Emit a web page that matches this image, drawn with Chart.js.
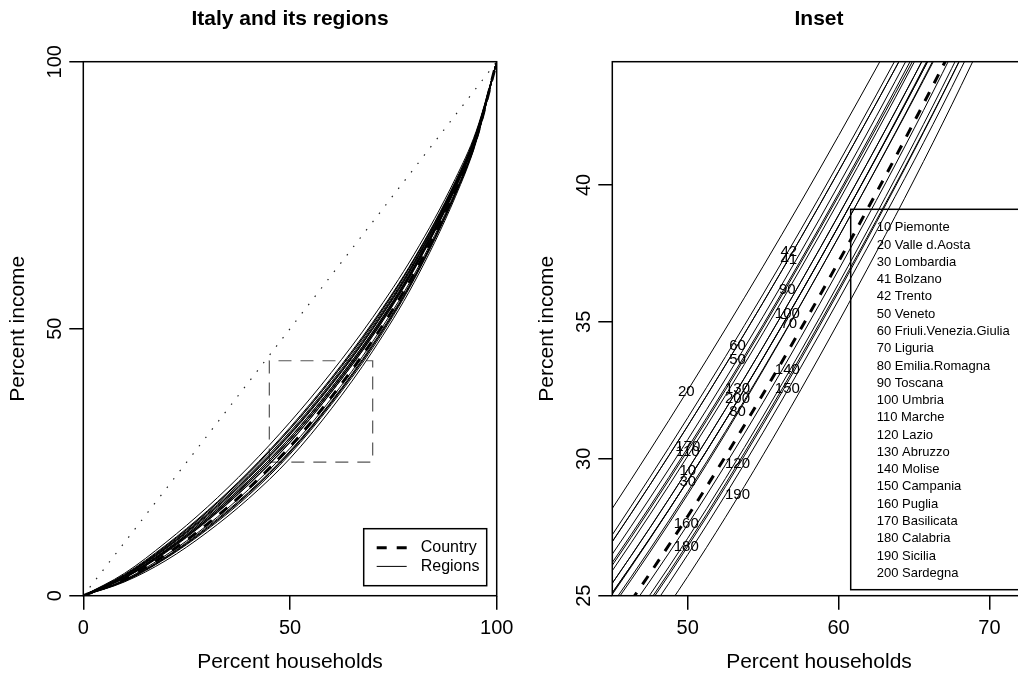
<!DOCTYPE html>
<html>
<head>
<meta charset="utf-8">
<script src="https://cdn.jsdelivr.net/npm/chart.js@4.4.0/dist/chart.umd.min.js"></script>
<style>
html, body { margin: 0; padding: 0; background: #fff; overflow: hidden; }
#wrap { position: relative; width: 1018px; height: 677px; overflow: hidden; background: #fff; }
#mainCanvas { position: absolute; left: 0; top: 0; }
#insetCanvas { position: absolute; left: 520px; top: 0; }
</style>
</head>
<body>
<div id="wrap">
  <canvas id="mainCanvas" width="540" height="677"></canvas>
  <canvas id="insetCanvas" width="520" height="677"></canvas>
</div>
<script>
// cumulative % of households (x) for every curve
var householdPct = [0, 10, 20, 30, 40, 50, 60, 70, 80, 90, 95, 100];

// cumulative % of income
var countryIncome = [0, 3.1, 7.7, 13.4, 20.1, 27.9, 37.2, 47.8, 60.3, 75.8, 85.5, 100];

var incPiemonte   = [0, 3.5, 8.5, 14.6, 21.6, 29.6, 38.9, 49.4, 61.6, 76.6, 86.0, 100];
var incValleAosta = [0, 4.2, 10.0, 16.6, 24.1, 32.5, 41.8, 52.1, 63.9, 78.1, 86.9, 100];
var incLombardia  = [0, 3.4, 8.3, 14.3, 21.2, 29.2, 38.5, 49.0, 61.3, 76.4, 85.9, 100];
var incBolzano    = [0, 3.9, 9.3, 15.7, 23.0, 31.2, 40.5, 50.9, 62.9, 77.4, 86.5, 100];
var incTrento     = [0, 4.0, 9.5, 15.9, 23.2, 31.5, 40.8, 51.2, 63.1, 77.6, 86.6, 100];
var incVeneto     = [0, 3.8, 9.1, 15.4, 22.6, 30.7, 40.0, 50.5, 62.5, 77.2, 86.3, 100];
var incFriuli     = [0, 3.8, 9.3, 15.7, 23.0, 31.2, 40.5, 50.9, 62.9, 77.3, 86.5, 100];
var incLiguria    = [0, 3.3, 8.2, 14.1, 20.9, 28.8, 38.1, 48.7, 61.1, 76.3, 85.8, 100];
var incEmilia     = [0, 3.3, 8.1, 14.0, 20.8, 28.7, 38.1, 48.6, 61.0, 76.2, 85.8, 100];
var incToscana    = [0, 3.6, 8.8, 14.9, 22.0, 30.1, 39.4, 49.9, 62.0, 76.9, 86.1, 100];
var incUmbria     = [0, 3.4, 8.4, 14.3, 21.3, 29.2, 38.5, 49.0, 61.4, 76.5, 85.9, 100];
var incMarche     = [0, 3.7, 8.9, 15.1, 22.2, 30.3, 39.6, 50.0, 62.2, 77.0, 86.2, 100];
var incLazio      = [0, 2.8, 7.2, 12.7, 19.2, 26.9, 36.2, 46.8, 59.5, 75.3, 85.2, 100];
var incAbruzzo    = [0, 3.5, 8.6, 14.6, 21.6, 29.6, 38.9, 49.4, 61.7, 76.7, 86.0, 100];
var incMolise     = [0, 2.9, 7.3, 12.9, 19.4, 27.1, 36.4, 47.1, 59.7, 75.4, 85.3, 100];
var incCampania   = [0, 2.7, 7.0, 12.4, 18.8, 26.5, 35.8, 46.4, 59.2, 75.1, 85.1, 100];
var incPuglia     = [0, 3.0, 7.6, 13.2, 19.9, 27.6, 36.9, 47.6, 60.1, 75.7, 85.4, 100];
var incBasilicata = [0, 3.7, 9.0, 15.2, 22.3, 30.4, 39.7, 50.2, 62.3, 77.1, 86.3, 100];
var incCalabria   = [0, 2.8, 7.1, 12.6, 19.1, 26.8, 36.1, 46.8, 59.4, 75.2, 85.2, 100];
var incSicilia    = [0, 2.6, 6.6, 11.9, 18.2, 25.7, 35.0, 45.8, 58.6, 74.7, 84.9, 100];
var incSardegna   = [0, 3.4, 8.4, 14.3, 21.3, 29.2, 38.5, 49.1, 61.4, 76.5, 85.9, 100];

var regionCodes = [10, 20, 30, 41, 42, 50, 60, 70, 80, 90, 100, 110, 120, 130, 140, 150, 160, 170, 180, 190, 200];
var regionNames = ['Piemonte', 'Valle d.Aosta', 'Lombardia', 'Bolzano', 'Trento', 'Veneto',
  'Friuli.Venezia.Giulia', 'Liguria', 'Emilia.Romagna', 'Toscana', 'Umbria', 'Marche', 'Lazio',
  'Abruzzo', 'Molise', 'Campania', 'Puglia', 'Basilicata', 'Calabria', 'Sicilia', 'Sardegna'];
var regionIncome = [incPiemonte, incValleAosta, incLombardia, incBolzano, incTrento, incVeneto,
  incFriuli, incLiguria, incEmilia, incToscana, incUmbria, incMarche, incLazio, incAbruzzo,
  incMolise, incCampania, incPuglia, incBasilicata, incCalabria, incSicilia, incSardegna];

// where each code is written in the inset (on its curve)
var labelX = [50.0, 49.9, 50.0, 56.7, 56.7, 53.3, 53.3, 56.7, 53.3, 56.6, 56.6, 50.0, 53.3, 53.3, 56.6, 56.6, 49.9, 50.0, 49.9, 53.3, 53.3];
var labelY = [29.56, 32.45, 29.16, 37.25, 37.55, 33.63, 34.11, 34.94, 31.72, 36.16, 35.31, 30.26, 29.81, 32.54, 33.24, 32.57, 27.64, 30.44, 26.79, 28.68, 32.17];

// equality line and the zoomed box
var equalX = [0, 100];
var equalY = [0, 100];
var boxX = [45, 70, 70, 45, 45];
var boxY = [25, 25, 44, 44, 25];

var mainXTicks = [0, 50, 100];
var mainYTicks = [0, 50, 100];
var insetXTicks = [50, 60, 70];
var insetYTicks = [25, 30, 35, 40];

var FONT = '"Liberation Sans", Arial, Helvetica, sans-serif';
Chart.defaults.font.family = FONT;
Chart.defaults.color = '#000';

function pts(xs, ys) {
  return xs.map(function(x, i) { return { x: x, y: ys[i] }; });
}

function curveSets() {
  var sets = [{
    data: pts(householdPct, countryIncome),
    showLine: true, pointRadius: 0, borderColor: '#000', borderWidth: 3,
    borderDash: [10, 10], cubicInterpolationMode: 'monotone', clip: 0, order: 0
  }];
  regionIncome.forEach(function(inc) {
    sets.push({
      data: pts(householdPct, inc),
      showLine: true, pointRadius: 0, borderColor: '#000', borderWidth: 1,
      cubicInterpolationMode: 'monotone', clip: 0, order: 1
    });
  });
  return sets;
}

function makeScales(xr, yr, xt, yt, yWidth, yTitlePad) {
  var grid = { drawOnChartArea: false, drawTicks: true, tickLength: 14, color: '#000', lineWidth: 1.5 };
  return {
    x: {
      type: 'linear', min: xr[0], max: xr[1],
      afterBuildTicks: function(s) { s.ticks = xt.map(function(v) { return { value: v }; }); },
      afterFit: function(s) { s.height = 81.3; },
      grid: grid, border: { display: false },
      ticks: { font: { size: 20 }, padding: 6.4, maxRotation: 0, autoSkip: false },
      title: { display: true, text: 'Percent households', font: { size: 21 }, padding: { top: 0, bottom: 1.7 } }
    },
    y: {
      type: 'linear', min: yr[0], max: yr[1],
      afterBuildTicks: function(s) { s.ticks = yt.map(function(v) { return { value: v }; }); },
      afterFit: function(s) { s.width = yWidth; },
      grid: grid, border: { display: false },
      ticks: { display: false },
      title: { display: true, text: 'Percent income', font: { size: 21 }, padding: { top: yTitlePad, bottom: 0 } }
    }
  };
}

// R style: box round the plot and y tick labels turned along the axis
var boxAndYLabels = {
  id: 'boxAndYLabels',
  afterDraw: function(chart) {
    var ctx = chart.ctx, a = chart.chartArea, s = chart.scales.y;
    ctx.save();
    ctx.strokeStyle = '#000';
    ctx.lineWidth = 1.5;
    ctx.strokeRect(a.left, a.top, a.right - a.left, a.bottom - a.top);
    ctx.fillStyle = '#000';
    ctx.font = '20px ' + FONT;
    ctx.textAlign = 'center';
    ctx.textBaseline = 'middle';
    s.ticks.forEach(function(t) {
      ctx.save();
      ctx.translate(a.left - 28, s.getPixelForValue(t.value));
      ctx.rotate(-Math.PI / 2);
      ctx.fillText(String(t.value), 0, 0);
      ctx.restore();
    });
    ctx.restore();
  }
};

var mainLegend = {
  id: 'mainLegend',
  afterDraw: function(chart) {
    var ctx = chart.ctx, a = chart.chartArea;
    var w = 123, h = 57;
    var x0 = a.right - 10 - w, y0 = a.bottom - 10 - h;
    ctx.save();
    ctx.fillStyle = '#fff';
    ctx.fillRect(x0, y0, w, h);
    ctx.strokeStyle = '#000';
    ctx.lineWidth = 1.5;
    ctx.strokeRect(x0, y0, w, h);
    ctx.lineWidth = 3;
    ctx.setLineDash([10, 10]);
    ctx.beginPath(); ctx.moveTo(x0 + 13, y0 + 19); ctx.lineTo(x0 + 46, y0 + 19); ctx.stroke();
    ctx.lineWidth = 1;
    ctx.setLineDash([]);
    ctx.beginPath(); ctx.moveTo(x0 + 13, y0 + 37.7); ctx.lineTo(x0 + 43, y0 + 37.7); ctx.stroke();
    ctx.fillStyle = '#000';
    ctx.font = '16px ' + FONT;
    ctx.textBaseline = 'middle';
    ctx.fillText('Country', x0 + 57, y0 + 19);
    ctx.fillText('Regions', x0 + 57, y0 + 37.7);
    ctx.restore();
  }
};

var insetLabels = {
  id: 'insetLabels',
  afterDatasetsDraw: function(chart) {
    var ctx = chart.ctx, a = chart.chartArea, xs = chart.scales.x, ys = chart.scales.y;
    ctx.save();
    ctx.beginPath();
    ctx.rect(a.left, a.top, a.right - a.left, a.bottom - a.top);
    ctx.clip();
    ctx.fillStyle = '#000';
    ctx.font = '15px ' + FONT;
    ctx.textAlign = 'center';
    ctx.textBaseline = 'middle';
    regionCodes.forEach(function(c, i) {
      ctx.fillText(String(c), xs.getPixelForValue(labelX[i]), ys.getPixelForValue(labelY[i]));
    });
    ctx.restore();
  }
};

var insetLegend = {
  id: 'insetLegend',
  afterDraw: function(chart) {
    var ctx = chart.ctx, a = chart.chartArea;
    var right = a.right - 6, bottom = a.bottom - 6;
    var left = right - 169, top = bottom - 380.4;
    ctx.save();
    ctx.strokeStyle = '#000';
    ctx.lineWidth = 1.5;
    ctx.strokeRect(left, top, right - left, bottom - top);
    ctx.fillStyle = '#000';
    ctx.font = '13px ' + FONT;
    ctx.textBaseline = 'middle';
    regionCodes.forEach(function(c, i) {
      ctx.fillText(c + ' ' + regionNames[i], left + 26, top + 18.4 + i * 17.28);
    });
    ctx.restore();
  }
};

function titleOpts(text) {
  return {
    display: true, text: text, fullSize: false, color: '#000',
    font: { size: 21, weight: 'bold' }, padding: { top: 6.8, bottom: 29.7 }
  };
}

var mainSets = curveSets();
mainSets.push({
  data: pts(equalX, equalY), showLine: true, pointRadius: 0,
  borderColor: '#222', borderWidth: 1.2, borderDash: [1.5, 9], clip: 0, order: 2
});
mainSets.push({
  data: pts(boxX, boxY), showLine: true, pointRadius: 0,
  borderColor: '#555', borderWidth: 1.2, borderDash: [13, 9], clip: 0, order: 2
});

new Chart(document.getElementById('mainCanvas').getContext('2d'), {
  type: 'scatter',
  data: { datasets: mainSets },
  options: {
    responsive: false, animation: false, events: [],
    layout: { padding: { left: 0, right: 43.3, top: 0, bottom: 0 } },
    scales: makeScales([0, 100], [0, 100], mainXTicks, mainYTicks, 83.3, 6),
    plugins: { legend: { display: false }, tooltip: { enabled: false }, title: titleOpts('Italy and its regions') }
  },
  plugins: [boxAndYLabels, mainLegend]
});

new Chart(document.getElementById('insetCanvas').getContext('2d'), {
  type: 'scatter',
  data: { datasets: curveSets() },
  options: {
    responsive: false, animation: false, events: [],
    layout: { padding: { left: 0, right: 14.3, top: 0, bottom: 0 } },
    scales: makeScales([45, 72.4], [25, 44.5], insetXTicks, insetYTicks, 92.3, 15),
    plugins: { legend: { display: false }, tooltip: { enabled: false }, title: titleOpts('Inset') }
  },
  plugins: [insetLabels, boxAndYLabels, insetLegend]
});
</script>
</body>
</html>
